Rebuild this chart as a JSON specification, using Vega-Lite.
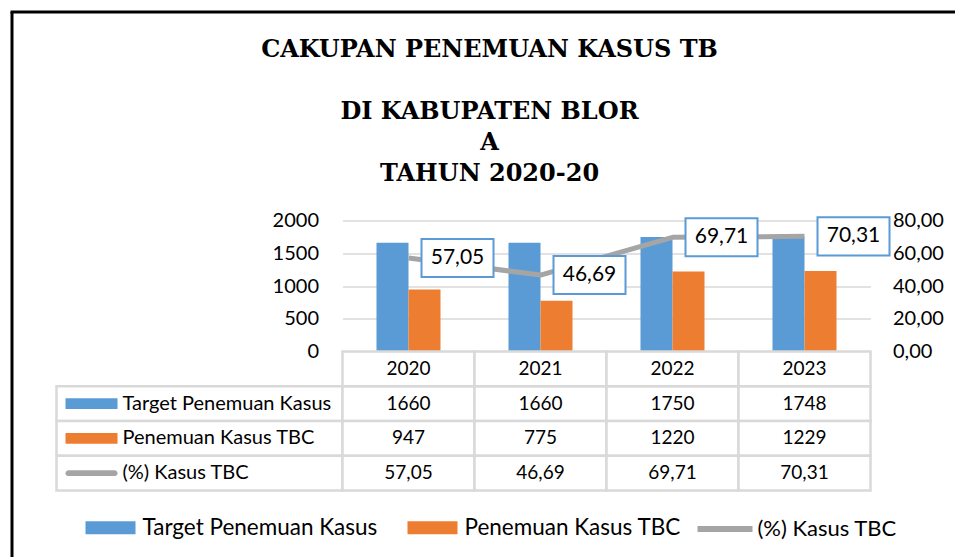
{
  "$schema": "https://vega.github.io/schema/vega-lite/v6.json",
  "padding": {"left": 11.5, "top": 11.5, "right": 0, "bottom": 0},
  "background": "white",
  "config": {
    "locale": {"number": {"decimal": ",", "thousands": ".", "grouping": [3], "currency": ["Rp", ""]}},
    "view": {"stroke": null},
    "font": "Lato",
    "axis": {"labelFont": "Lato", "labelColor": "black"},
    "legend": {"labelFont": "Lato", "labelColor": "black"}
  },
  "datasets": {
    "kasus": [
      {"year": "2020", "series": "Target Penemuan Kasus", "value": 1660},
      {"year": "2021", "series": "Target Penemuan Kasus", "value": 1660},
      {"year": "2022", "series": "Target Penemuan Kasus", "value": 1750},
      {"year": "2023", "series": "Target Penemuan Kasus", "value": 1748},
      {"year": "2020", "series": "Penemuan Kasus TBC", "value": 947},
      {"year": "2021", "series": "Penemuan Kasus TBC", "value": 775},
      {"year": "2022", "series": "Penemuan Kasus TBC", "value": 1220},
      {"year": "2023", "series": "Penemuan Kasus TBC", "value": 1229},
      {"year": "2020", "series": "(%) Kasus TBC", "value": 57.05},
      {"year": "2021", "series": "(%) Kasus TBC", "value": 46.69},
      {"year": "2022", "series": "(%) Kasus TBC", "value": 69.71},
      {"year": "2023", "series": "(%) Kasus TBC", "value": 70.31}
    ]
  },
  "columns": 2,
  "spacing": 0,
  "bounds": "flush",
  "align": "each",
  "resolve": {
    "scale": {"x": "independent", "y": "independent", "color": "independent", "shape": "independent", "stroke": "independent"},
    "legend": {"color": "independent", "stroke": "independent", "shape": "independent"}
  },
  "concat": [
    {
      "width": 286,
      "height": 131,
      "data": {"values": [{"k": "a"}]},
      "mark": {"type": "text"},
      "encoding": {
        "text": {"value": ""},
        "x": {"field": "k", "type": "nominal", "scale": {"range": [-46.5, 915]}, "axis": {"orient": "top", "offset": 209, "domainColor": "black", "domainWidth": 3, "labels": false, "ticks": false, "grid": false, "title": null}},
        "y": {"field": "k", "type": "nominal", "scale": {"range": [-209, 345]}, "axis": {"orient": "left", "offset": 45, "domainColor": "black", "domainWidth": 3, "labels": false, "ticks": false, "grid": false, "title": null}}
      }
    },
    {
      "width": 528,
      "height": 131,
      "data": {"name": "kasus"},
      "title": {
        "text": "CAKUPAN PENEMUAN KASUS TB",
        "subtitle": ["DI KABUPATEN BLOR", "A", "TAHUN 2020-20"],
        "font": "DejaVu Serif",
        "fontWeight": "bold",
        "fontSize": 24,
        "subtitleFont": "DejaVu Serif",
        "subtitleFontWeight": "bold",
        "subtitleFontSize": 24,
        "subtitleLineHeight": 31.3,
        "subtitleColor": "black",
        "subtitlePadding": 38,
        "anchor": "middle",
        "frame": "group",
        "dx": -117,
        "offset": 24,
        "color": "black"
      },
      "layer": [
        {
          "transform": [{"filter": "datum.series !== '(%) Kasus TBC'"}],
          "mark": {"type": "bar"},
          "encoding": {
            "x": {"field": "year", "type": "nominal", "scale": {"paddingInner": 0.515, "paddingOuter": 0.2575}, "axis": null},
            "xOffset": {"field": "series", "type": "nominal", "scale": {"domain": ["Target Penemuan Kasus", "Penemuan Kasus TBC"]}},
            "y": {"field": "value", "type": "quantitative", "scale": {"domain": [0, 2000]}, "axis": {"values": [0, 500, 1000, 1500, 2000], "format": "d", "domain": false, "ticks": false, "labelFontSize": 20, "labelPadding": 24, "gridColor": "#d9d9d9", "gridWidth": 1.5, "title": null}},
            "color": {"field": "series", "type": "nominal", "scale": {"domain": ["Target Penemuan Kasus", "Penemuan Kasus TBC"], "range": ["#5B9BD5", "#ED7D31"]},
              "legend": {"orient": "none", "legendX": -257, "legendY": 282, "direction": "horizontal", "title": null, "symbolType": "M-1,-0.26H1V0.26H-1Z", "symbolSize": 2500, "symbolStrokeWidth": 0, "labelFontSize": 22.5, "labelOffset": 7, "columnPadding": 30, "labelLimit": 0, "padding": 0}}
          }
        },
        {
          "transform": [{"filter": "datum.series === '(%) Kasus TBC'"}],
          "encoding": {
            "x": {"field": "year", "type": "nominal"},
            "y": {"field": "value", "type": "quantitative", "scale": {"domain": [0, 80]}, "axis": {"orient": "right", "values": [0, 20, 40, 60, 80], "format": ".2f", "domain": false, "ticks": false, "grid": false, "labelFontSize": 20, "labelPadding": 22, "title": null}}
          },
          "layer": [
            {
              "mark": {"type": "line", "strokeWidth": 5, "strokeJoin": "round"},
              "encoding": {"stroke": {"datum": "(%) Kasus TBC", "type": "nominal", "scale": {"range": ["#A5A5A5"]},
                "legend": {"orient": "none", "legendX": 352, "legendY": 278, "title": null, "symbolType": "stroke", "symbolSize": 3025, "symbolStrokeWidth": 6, "labelFontSize": 22, "labelOffset": 2, "labelLimit": 0, "padding": 0}}}
            },
            {
              "mark": {"type": "point", "shape": "M-1,-0.528H1V0.528H-1Z", "size": 5184, "filled": false, "fill": "white", "fillOpacity": 1, "opacity": 1, "stroke": "#5B9BD5", "strokeWidth": 2, "xOffset": 49}
            },
            {
              "mark": {"type": "text", "fontSize": 21, "dx": 49, "color": "black"},
              "encoding": {"text": {"field": "value", "type": "quantitative", "format": ".2f"}}
            }
          ]
        }
      ],
      "resolve": {"scale": {"y": "independent"}}
    },
    {
      "width": 286,
      "height": 139,
      "data": {"name": "kasus"},
      "transform": [{"filter": "datum.year === '2020'"}],
      "encoding": {
        "y": {"field": "series", "type": "nominal", "scale": {"domain": ["Tahun", "Target Penemuan Kasus", "Penemuan Kasus TBC", "(%) Kasus TBC"], "paddingInner": 0, "paddingOuter": 0}, "axis": null}
      },
      "layer": [
        {"mark": {"type": "rect", "fill": "white", "stroke": "#d9d9d9", "strokeWidth": 2.5}},
        {
          "mark": {"type": "point", "filled": true, "opacity": 1, "size": 2704, "xOffset": -108, "strokeWidth": 0},
          "encoding": {
            "shape": {"field": "series", "type": "nominal", "scale": {"domain": ["Target Penemuan Kasus", "Penemuan Kasus TBC", "(%) Kasus TBC"], "range": ["M-1,-0.21H1V0.21H-1Z", "M-1,-0.21H1V0.21H-1Z", "M-0.885,-0.115H0.885A0.115,0.115 0 0 1 0.885,0.115H-0.885A0.115,0.115 0 0 1 -0.885,-0.115Z"]}, "legend": null},
            "color": {"field": "series", "type": "nominal", "scale": {"domain": ["Target Penemuan Kasus", "Penemuan Kasus TBC", "(%) Kasus TBC"], "range": ["#5B9BD5", "#ED7D31", "#A5A5A5"]}, "legend": null}
          }
        },
        {
          "mark": {"type": "text", "align": "left", "dx": -77, "fontSize": 20, "color": "black"},
          "encoding": {"text": {"field": "series", "type": "nominal"}}
        }
      ]
    },
    {
      "width": 528,
      "height": 139,
      "data": {"name": "kasus"},
      "encoding": {
        "x": {"field": "year", "type": "nominal", "scale": {"paddingInner": 0, "paddingOuter": 0}, "axis": null}
      },
      "layer": [
        {
          "mark": {"type": "rect", "fill": "white", "stroke": "#d9d9d9", "strokeWidth": 2.5},
          "encoding": {"y": {"field": "series", "type": "nominal", "scale": {"domain": ["Tahun", "Target Penemuan Kasus", "Penemuan Kasus TBC", "(%) Kasus TBC"], "paddingInner": 0, "paddingOuter": 0}, "axis": null}}
        },
        {
          "transform": [{"filter": "datum.series === 'Target Penemuan Kasus'"}],
          "mark": {"type": "rect", "fill": "white", "stroke": "#d9d9d9", "strokeWidth": 2.5},
          "encoding": {"y": {"datum": "Tahun", "type": "nominal"}}
        },
        {
          "transform": [{"filter": "datum.series === 'Target Penemuan Kasus'"}],
          "mark": {"type": "text", "fontSize": 19, "color": "black"},
          "encoding": {"y": {"datum": "Tahun", "type": "nominal"}, "text": {"field": "year", "type": "nominal"}}
        },
        {
          "transform": [{"filter": "datum.series !== '(%) Kasus TBC'"}],
          "mark": {"type": "text", "fontSize": 19, "color": "black"},
          "encoding": {"y": {"field": "series", "type": "nominal"}, "text": {"field": "value", "type": "quantitative", "format": "d"}}
        },
        {
          "transform": [{"filter": "datum.series === '(%) Kasus TBC'"}],
          "mark": {"type": "text", "fontSize": 19, "color": "black"},
          "encoding": {"y": {"field": "series", "type": "nominal"}, "text": {"field": "value", "type": "quantitative", "format": ".2f"}}
        }
      ]
    }
  ]
}
